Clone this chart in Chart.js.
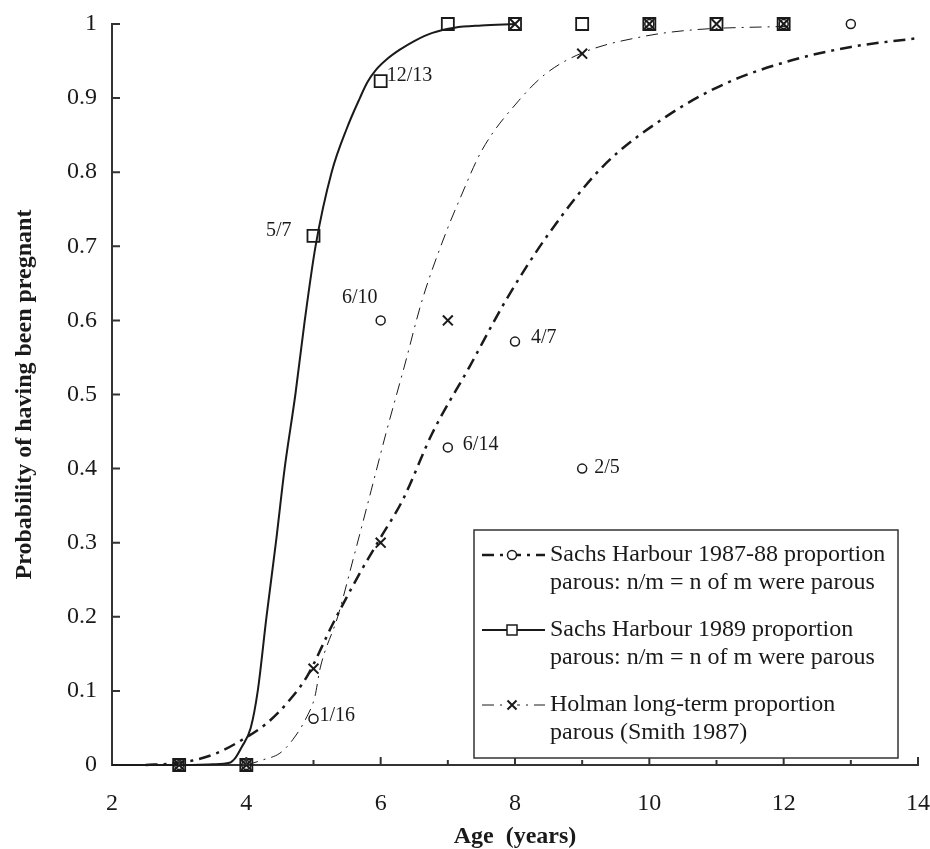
<!DOCTYPE html>
<html>
<head>
<meta charset="utf-8">
<title>Probability of having been pregnant</title>
<script src="https://cdn.jsdelivr.net/npm/chart.js@4.4.1/dist/chart.umd.min.js"></script>
<style>
    html, body { margin: 0; padding: 0; background: #ffffff; }
    #wrap { width: 930px; height: 849px; position: relative; }
</style>
</head>
<body>
<div id="wrap"><canvas id="parous"></canvas></div>
<script>
/***************************************
 * 1. Data
 ***************************************/

// Observed proportions, Sachs Harbour 1987-88 (circles)
const circX = [3, 4, 5, 6, 7, 8, 9, 10, 12, 13];
const circY = [0, 0, 0.0625, 0.6, 0.4286, 0.5714, 0.4, 1, 1, 1];
const circLabels = ['', '', '1/16', '6/10', '6/14', '4/7', '2/5', '', '', ''];

// Observed proportions, Sachs Harbour 1989 (squares)
const sqX = [3, 4, 5, 6, 7, 8, 9, 10, 11, 12];
const sqY = [0, 0, 0.714, 0.923, 1, 1, 1, 1, 1, 1];
const sqLabels = ['', '', '5/7', '12/13', '', '', '', '', '', ''];

// Observed proportions, Holman long-term (crosses)
const crossX = [3, 4, 5, 6, 7, 8, 9, 10, 11, 12];
const crossY = [0, 0, 0.13, 0.30, 0.60, 1, 0.96, 1, 1, 1];

// Fitted curves (traced)
const fit8788X = [2.5, 2.9, 3.2, 3.56, 3.9, 4.3, 4.6, 4.9, 5.29, 5.69, 5.98, 6.33, 6.77, 7.32, 7.87, 8.51, 9.3, 10.25, 11.14, 12.12, 13.0, 14];
const fit8788Y = [0, 0.002, 0.006, 0.016, 0.032, 0.056, 0.083, 0.119, 0.191, 0.259, 0.304, 0.358, 0.448, 0.537, 0.628, 0.718, 0.807, 0.875, 0.92, 0.951, 0.969, 0.981];

const fit1989X = [2, 3, 3.5, 3.75, 3.84, 3.93, 4.065, 4.17, 4.3, 4.44, 4.57, 4.73, 4.87, 5.03, 5.27, 5.5, 5.69, 5.8, 5.93, 6.1, 6.28, 6.5, 6.77, 7.1, 7.5, 8];
const fit1989Y = [0, 0, 0.001, 0.003, 0.01, 0.024, 0.05, 0.1, 0.2, 0.3, 0.4, 0.5, 0.6, 0.7, 0.8, 0.86, 0.9, 0.921, 0.938, 0.953, 0.965, 0.977, 0.988, 0.995, 0.998, 1];

const fitHolmanX = [4.0, 4.25, 4.5, 4.69, 4.9, 5.02, 5.1, 5.36, 5.6, 5.86, 6.08, 6.35, 6.62, 6.97, 7.17, 7.51, 8.06, 8.46, 9.0, 9.9, 10.64, 12.1];
const fitHolmanY = [0, 0.007, 0.016, 0.034, 0.065, 0.092, 0.131, 0.2, 0.281, 0.371, 0.448, 0.537, 0.628, 0.718, 0.762, 0.83, 0.897, 0.933, 0.961, 0.983, 0.992, 0.997];

// Axis ticks
const xTickMin = 2, xTickMax = 14, xTickStep = 2;
const yTickMin = 0, yTickMax = 1, yTickStep = 0.1;

// Legend text
const legendLines = [
    ['Sachs Harbour 1987-88 proportion', 'parous: n/m = n of m were parous'],
    ['Sachs Harbour 1989 proportion', 'parous: n/m = n of m were parous'],
    ['Holman long-term proportion', 'parous (Smith 1987)']
];

function pairs(xs, ys) {
    return xs.map((x, i) => ({ x: x, y: ys[i] }));
}

/***************************************
 * 2. Styles
 ***************************************/
const INK = '#1a1a1a';
const SERIF = '"Liberation Serif", "DejaVu Serif", serif';
const DASH_8788 = [12, 6, 3, 6];
const DASH_HOLMAN = [12, 6, 2, 6];

Chart.defaults.font.family = SERIF;
Chart.defaults.color = INK;

/***************************************
 * 3. Plugins: inward ticks, point labels, boxed legend
 ***************************************/
var inwardTicks = {
    id: 'inwardTicks',
    afterDraw: function(chart) {
        const ctx = chart.ctx;
        const area = chart.chartArea;
        const xs = chart.scales.x, ys = chart.scales.y;
        ctx.save();
        ctx.strokeStyle = '#333';
        ctx.lineWidth = 2;
        ctx.beginPath();
        for (let v = xTickMin + 1; v <= xTickMax; v++) {
            const px = xs.getPixelForValue(v);
            const len = (v % 2 === 0) ? 8 : 5;
            ctx.moveTo(px, area.bottom);
            ctx.lineTo(px, area.bottom - len);
        }
        for (let k = 1; k <= 10; k++) {
            const py = ys.getPixelForValue(k / 10);
            ctx.moveTo(area.left, py);
            ctx.lineTo(area.left + 8, py);
        }
        ctx.stroke();
        ctx.restore();
    }
};

// label offsets, in px from the marker
const labelOffsets = {
    '1/16': [6, -3, 'left'],
    '6/10': [-21, -23, 'center'],
    '6/14': [15, -3, 'left'],
    '4/7': [16, -4, 'left'],
    '2/5': [12, -1, 'left'],
    '5/7': [-22, -5, 'right'],
    '12/13': [6, -5, 'left']
};

var pointLabels = {
    id: 'pointLabels',
    afterDatasetsDraw: function(chart) {
        const ctx = chart.ctx;
        ctx.save();
        ctx.font = '20px ' + SERIF;
        ctx.fillStyle = INK;
        ctx.textBaseline = 'middle';
        chart.data.datasets.forEach(function(ds, i) {
            if (!ds.pointLabels) return;
            const meta = chart.getDatasetMeta(i);
            ds.pointLabels.forEach(function(txt, j) {
                if (!txt) return;
                const el = meta.data[j];
                const off = labelOffsets[txt] || [8, 0, 'left'];
                ctx.textAlign = off[2];
                ctx.fillText(txt, el.x + off[0], el.y + off[1]);
            });
        });
        ctx.restore();
    }
};

var boxLegend = {
    id: 'boxLegend',
    afterDraw: function(chart) {
        const ctx = chart.ctx;
        const area = chart.chartArea;
        const w = 424, h = 228;
        const left = area.right - 20 - w;
        const top = area.bottom - 7 - h;
        ctx.save();
        ctx.fillStyle = '#ffffff';
        ctx.fillRect(left, top, w, h);
        ctx.strokeStyle = '#333';
        ctx.lineWidth = 1.5;
        ctx.strokeRect(left, top, w, h);

        const rowY = [top + 25, top + 100, top + 175];
        const styles = [
            { dash: DASH_8788, width: 2.5, marker: 'circle' },
            { dash: [], width: 2, marker: 'rect' },
            { dash: DASH_HOLMAN, width: 1, marker: 'crossRot' }
        ];
        styles.forEach(function(st, i) {
            const y = rowY[i];
            ctx.strokeStyle = INK;
            ctx.lineWidth = st.width;
            ctx.setLineDash(st.dash);
            ctx.beginPath();
            ctx.moveTo(left + 8, y);
            ctx.lineTo(left + 71, y);
            ctx.stroke();
            ctx.setLineDash([]);
            ctx.lineWidth = 1.5;
            ctx.fillStyle = '#ffffff';
            const mx = left + 38;
            if (st.marker === 'circle') {
                ctx.beginPath();
                ctx.arc(mx, y, 4.5, 0, Math.PI * 2);
                ctx.fill();
                ctx.stroke();
            } else if (st.marker === 'rect') {
                ctx.fillRect(mx - 5, y - 5, 10, 10);
                ctx.strokeRect(mx - 5, y - 5, 10, 10);
            } else {
                ctx.fillRect(mx - 5, y - 5, 10, 10);
                ctx.lineWidth = 2;
                ctx.beginPath();
                ctx.moveTo(mx - 4.5, y - 4.5); ctx.lineTo(mx + 4.5, y + 4.5);
                ctx.moveTo(mx + 4.5, y - 4.5); ctx.lineTo(mx - 4.5, y + 4.5);
                ctx.stroke();
            }
        });

        ctx.fillStyle = INK;
        ctx.font = '24px ' + SERIF;
        ctx.textAlign = 'left';
        ctx.textBaseline = 'middle';
        legendLines.forEach(function(lines, i) {
            ctx.fillText(lines[0], left + 76, rowY[i]);
            ctx.fillText(lines[1], left + 76, rowY[i] + 28);
        });
        ctx.restore();
    }
};

/***************************************
 * 4. Chart
 ***************************************/
const ctxParous = document.getElementById('parous').getContext('2d');
const parousChart = new Chart(ctxParous, {
    type: 'scatter',
    data: {
        datasets: [
            {
                label: 'Sachs Harbour 1987-88 fit',
                data: pairs(fit8788X, fit8788Y),
                showLine: true,
                borderColor: INK,
                borderWidth: 2.5,
                borderDash: DASH_8788,
                pointRadius: 0,
                cubicInterpolationMode: 'monotone',
                clip: false
            },
            {
                label: 'Sachs Harbour 1989 fit',
                data: pairs(fit1989X, fit1989Y),
                showLine: true,
                borderColor: INK,
                borderWidth: 2,
                pointRadius: 0,
                cubicInterpolationMode: 'monotone',
                clip: false
            },
            {
                label: 'Holman fit',
                data: pairs(fitHolmanX, fitHolmanY),
                showLine: true,
                borderColor: INK,
                borderWidth: 1,
                borderDash: DASH_HOLMAN,
                pointRadius: 0,
                cubicInterpolationMode: 'monotone',
                clip: false
            },
            {
                label: 'Sachs Harbour 1987-88 proportion parous',
                data: pairs(circX, circY),
                pointLabels: circLabels,
                pointStyle: 'circle',
                pointRadius: 4.5,
                borderWidth: 1.5,
                borderColor: INK,
                backgroundColor: 'rgba(255,255,255,0)',
                clip: false
            },
            {
                label: 'Sachs Harbour 1989 proportion parous',
                data: pairs(sqX, sqY),
                pointLabels: sqLabels,
                pointStyle: 'rect',
                pointRadius: 8.5,
                borderWidth: 1.8,
                borderColor: INK,
                backgroundColor: 'rgba(255,255,255,0)',
                clip: false
            },
            {
                label: 'Holman long-term proportion parous',
                data: pairs(crossX, crossY),
                pointStyle: 'crossRot',
                pointRadius: 7,
                borderWidth: 2,
                borderColor: INK,
                clip: false
            }
        ]
    },
    options: {
        responsive: true,
        maintainAspectRatio: false,
        animation: false,
        events: [],
        layout: { padding: { top: 24, right: 12, left: 0, bottom: 0 } },
        plugins: {
            legend: { display: false },
            tooltip: { enabled: false }
        },
        scales: {
            x: {
                type: 'linear',
                min: xTickMin,
                max: xTickMax,
                afterFit: function(scale) {
                    scale.height = 84;
                    scale.paddingLeft = 0;
                    scale.paddingRight = 0;
                },
                grid: { display: false, drawTicks: false },
                border: { display: true, color: '#333', width: 2 },
                ticks: { stepSize: xTickStep, padding: 24, color: INK, font: { size: 24 } },
                title: {
                    display: true,
                    text: 'Age  (years)',
                    color: INK,
                    font: { size: 24, weight: 'bold', lineHeight: 1 },
                    padding: { top: 0, bottom: 0 }
                }
            },
            y: {
                type: 'linear',
                min: yTickMin,
                max: yTickMax,
                afterFit: function(scale) {
                    scale.width = 112;
                    scale.paddingTop = 0;
                    scale.paddingBottom = 0;
                },
                grid: { display: false, drawTicks: false },
                border: { display: true, color: '#333', width: 2 },
                ticks: {
                    stepSize: yTickStep,
                    padding: 15,
                    color: INK,
                    font: { size: 24 },
                    callback: function(value) { return String(Math.round(value * 10) / 10); }
                },
                title: {
                    display: true,
                    text: 'Probability of having been pregnant',
                    color: INK,
                    font: { size: 24, weight: 'bold', lineHeight: 1 },
                    padding: { top: 13, bottom: 0 }
                }
            }
        }
    },
    plugins: [inwardTicks, pointLabels, boxLegend]
});
</script>
</body>
</html>
